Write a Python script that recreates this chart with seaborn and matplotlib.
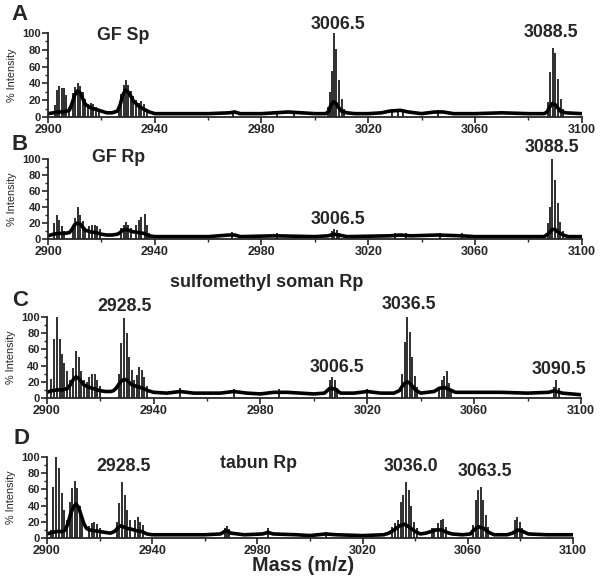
"""
MALDI spectra of adducted peptide, four panels (A-D), stick + baseline rendering.
"""

import matplotlib
matplotlib.use("Agg")
import matplotlib.pyplot as plt
import seaborn as sns
from matplotlib.ticker import MultipleLocator

sns.set_style("ticks")
plt.rcParams["font.family"] = ["Liberation Sans", "DejaVu Sans"]

# ---------------------------------------------------------------------------
# Data: baseline envelope + isotope sticks
# ---------------------------------------------------------------------------
a_base_mz = [2900, 2902, 2904, 2906, 2908, 2909, 2910, 2911, 2912, 2913, 2914, 2916, 2918, 2920,
             2922, 2924, 2926, 2927, 2928, 2929, 2930, 2931, 2932, 2934, 2936, 2938, 2940, 2950,
             2960, 2968, 2970, 2972, 2980, 2985, 2990, 2995, 3000, 3004, 3005, 3006, 3007, 3008,
             3009, 3010, 3012, 3015, 3020, 3025, 3028, 3032, 3035, 3040, 3045, 3048, 3052, 3060,
             3070, 3080, 3086, 3087, 3088, 3089, 3090, 3091, 3092, 3094, 3100]
a_base_int = [4, 5, 6, 6, 8, 16, 26, 31, 29, 22, 15, 11, 9, 7,
              5, 5, 7, 14, 26, 32, 30, 25, 19, 13, 9, 6, 4, 4,
              4, 5, 6, 4, 4, 5, 6, 5, 4, 4, 6, 14, 18, 16,
              11, 7, 5, 4, 4, 5, 7, 8, 6, 4, 6, 6, 4, 4,
              5, 4, 4, 6, 12, 16, 15, 11, 7, 5, 4]
a_peak_mz = [2902.5, 2903.3, 2904.2, 2905.1, 2906.0, 2906.8, 2907.7,
             2909.5, 2910.3, 2911.2, 2912.1, 2913.0, 2914.0, 2915.0, 2916.0, 2917.0, 2918.0, 2919.0,
             2926.5, 2927.5, 2928.4, 2929.2, 2930.1, 2931.0, 2932.0, 2933.0, 2934.0, 2935.0, 2936.0, 2937.0,
             2969.5, 2986.0, 2992.0,
             3004.8, 3005.6, 3006.3, 3007.2, 3008.1, 3009.1, 3010.0, 3011.0,
             3029.0, 3031.0, 3033.0, 3046.0,
             3087.5, 3088.3, 3089.1, 3090.1, 3091.1, 3092.1, 3093.0]
a_peak_int = [14, 32, 37, 35, 34, 26, 12,
              28, 36, 40, 37, 30, 22, 16, 17, 16, 12, 9,
              14, 27, 38, 44, 38, 31, 25, 20, 17, 19, 15, 10,
              7, 7, 7,
              12, 30, 55, 100, 81, 44, 22, 10,
              9, 9, 10, 8,
              18, 54, 82, 76, 45, 22, 10]

b_base_mz = [2900, 2902, 2904, 2906, 2908, 2909, 2910, 2911, 2912, 2913, 2914, 2916, 2918, 2920,
             2922, 2924, 2926, 2927, 2928, 2929, 2930, 2931, 2932, 2934, 2936, 2938, 2940, 2960,
             2968, 2970, 2972, 2985, 3000, 3005, 3007, 3009, 3012, 3028, 3032, 3036, 3046, 3055,
             3060, 3086, 3088, 3089, 3090, 3091, 3093, 3095, 3100]
b_base_int = [4, 6, 7, 7, 8, 12, 18, 20, 19, 15, 11, 9, 8, 6,
              5, 5, 6, 8, 11, 12, 11, 10, 9, 8, 7, 4, 3, 3,
              5, 5, 3, 4, 3, 4, 6, 5, 3, 4, 5, 4, 5, 4,
              3, 3, 8, 12, 12, 9, 5, 3, 3]
b_peak_mz = [2902.4, 2903.3, 2904.3, 2905.2, 2906.1,
             2909.5, 2910.3, 2911.2, 2912.1, 2913.0, 2914.0,
             2915.5, 2916.5, 2917.5, 2918.5, 2919.5,
             2927.5, 2928.4, 2929.2, 2930.1, 2931.0,
             2933.0, 2934.0, 2935.0, 2936.2, 2937.0, 2938.0,
             2969.0, 2986.0, 3006.5, 3007.3, 3008.2, 3009.0,
             3030.0, 3034.0, 3047.0, 3055.0,
             3087.5, 3088.3, 3089.0, 3090.1, 3091.1, 3092.0, 3093.0]
b_peak_int = [20, 30, 24, 16, 10,
              18, 26, 40, 30, 22, 14,
              16, 17, 17, 16, 12,
              14, 18, 21, 18, 14,
              18, 24, 28, 31, 18, 8,
              9, 7, 10, 12, 11, 7,
              7, 8, 8, 7,
              20, 40, 100, 74, 45, 21, 10]

c_base_mz = [2900, 2902, 2904, 2906, 2908, 2909, 2910, 2911, 2912, 2913, 2914, 2916, 2918, 2920,
             2922, 2924, 2925, 2926, 2927, 2928, 2929, 2930, 2931, 2932, 2934, 2936, 2938, 2940,
             2945, 2950, 2955, 2960, 2965, 2970, 2975, 2980, 2985, 2990, 2995, 3000, 3004, 3006,
             3008, 3010, 3015, 3020, 3025, 3030, 3032, 3033, 3034, 3035, 3036, 3037, 3038, 3040,
             3045, 3047, 3049, 3051, 3053, 3060, 3070, 3080, 3088, 3090, 3093, 3100]
c_base_int = [7, 9, 10, 10, 12, 17, 23, 26, 24, 20, 16, 13, 11, 9,
              8, 8, 9, 12, 17, 21, 23, 22, 19, 16, 14, 12, 9, 7,
              6, 8, 6, 6, 6, 8, 6, 5, 7, 7, 6, 5, 6, 12,
              11, 6, 6, 8, 6, 6, 9, 14, 18, 20, 18, 14, 10, 6,
              8, 12, 13, 10, 7, 7, 7, 6, 7, 9, 6, 4]
c_peak_mz = [2901.8, 2902.6, 2903.9, 2904.9, 2905.7, 2906.6, 2907.6, 2908.6,
             2909.7, 2911.0, 2912.0, 2913.0, 2914.0,
             2915.0, 2916.0, 2917.0, 2918.0, 2919.0, 2920.0,
             2927.0, 2928.0, 2929.1, 2930.0, 2930.9, 2931.8,
             2932.8, 2933.7, 2934.6, 2935.6, 2936.6, 2937.5,
             2950.0, 2970.0, 2987.0,
             3005.9, 3006.9, 3007.8, 3008.7,
             3020.0,
             3033.0, 3034.0, 3035.0, 3036.0, 3036.9, 3037.9, 3038.8,
             3047.0, 3047.9, 3048.8, 3049.7, 3050.6, 3051.5,
             3089.8, 3090.8, 3091.8]
c_peak_int = [24, 73, 100, 73, 54, 43, 33, 22,
              37, 58, 51, 33, 22,
              20, 26, 29, 30, 22, 15,
              30, 68, 99, 80, 51, 35,
              22, 28, 38, 35, 26, 15,
              12, 11, 11,
              22, 26, 22, 12,
              11,
              30, 69, 100, 82, 51, 27, 14,
              14, 22, 27, 33, 18, 11,
              14, 22, 12]

d_base_mz = [2900, 2902, 2904, 2906, 2907, 2908, 2909, 2910, 2911, 2912, 2913, 2914, 2915, 2916,
             2918, 2920, 2922, 2924, 2925, 2926, 2927, 2928, 2929, 2930, 2932, 2934, 2936, 2938,
             2940, 2950, 2960, 2966, 2968, 2970, 2975, 2982, 2984, 2986, 2995, 3000, 3006, 3010,
             3020, 3028, 3030, 3032, 3034, 3036, 3038, 3040, 3042, 3044, 3046, 3048, 3050, 3052,
             3054, 3058, 3061, 3062, 3064, 3066, 3068, 3070, 3075, 3077, 3079, 3081, 3083, 3090,
             3100]
d_base_int = [5, 7, 8, 8, 10, 18, 30, 38, 42, 38, 28, 18, 12, 10,
              9, 8, 7, 6, 7, 9, 13, 15, 14, 12, 11, 9, 8, 5,
              4, 4, 4, 5, 9, 6, 4, 5, 7, 5, 4, 3, 5, 4,
              3, 4, 6, 10, 15, 17, 13, 8, 5, 6, 8, 10, 10, 7,
              5, 4, 5, 9, 14, 12, 7, 4, 4, 6, 10, 8, 5, 4,
              4]
d_peak_mz = [2901.5, 2902.2, 2903.3, 2904.6, 2905.6, 2906.6, 2907.5,
             2908.8, 2909.7, 2910.6, 2911.5, 2912.4, 2913.3,
             2916.0, 2917.0, 2918.0, 2919.0, 2920.0,
             2926.5, 2927.5, 2928.5, 2929.5, 2930.5, 2931.6,
             2933.5, 2934.5, 2935.4, 2936.4,
             2967.5, 2968.3, 2969.2, 2984.0,
             3006.2,
             3031.3, 3032.3, 3033.3, 3034.5, 3035.5, 3036.5, 3037.5, 3038.5, 3039.5, 3040.6,
             3046.3, 3047.3, 3048.8, 3049.7, 3050.7, 3051.7,
             3062.0, 3063.0, 3064.0, 3064.9, 3065.9, 3066.8, 3067.8,
             3078.0, 3078.8, 3079.8, 3080.7]
d_peak_int = [10, 63, 100, 86, 55, 35, 22,
              45, 62, 71, 62, 40, 25,
              15, 18, 20, 17, 12,
              20, 43, 69, 53, 35, 22,
              22, 26, 20, 16,
              12, 15, 11, 12,
              8,
              14, 18, 22, 45, 53, 69, 59, 39, 20, 12,
              12, 12, 18, 22, 24, 14,
              16, 47, 59, 63, 47, 29, 14,
              22, 26, 20, 12]

# peak annotations: (text, m/z, % intensity)
a_labels = [("GF Sp", 2928.0, 97), ("3006.5", 3008.8, 110), ("3088.5", 3088.6, 101)]
b_labels = [("GF Rp", 2926.4, 102), ("3006.5", 3008.8, 25), ("3088.5", 3089.0, 114)]
c_labels = [("sulfomethyl soman Rp", 2982.5, 143), ("2928.5", 2929.3, 113),
            ("3036.5", 3035.6, 116), ("3006.5", 3008.6, 38), ("3090.5", 3091.8, 35)]
d_labels = [("2928.5", 2929.0, 88), ("tabun Rp", 2980.6, 92),
            ("3036.0", 3038.3, 88), ("3063.5", 3066.5, 82)]

x_major = [2900, 2940, 2980, 3020, 3060, 3100]
x_minor = [2920, 2960, 3000, 3040, 3080]

panel_letters = ["A", "B", "C", "D"]
letter_px = [(20, 15), (20, 144), (20, 300), (21, 438)]

# ---------------------------------------------------------------------------
# Figure
# ---------------------------------------------------------------------------
fig = plt.figure(figsize=(6, 5.81), dpi=100)
rects = [(0.080, 0.7986, 0.8895, 0.1446),
         (0.080, 0.5886, 0.8895, 0.1377),
         (0.0778, 0.3150, 0.8905, 0.1394),
         (0.0783, 0.0740, 0.8767, 0.1394)]
panels = [(a_base_mz, a_base_int, a_peak_mz, a_peak_int, a_labels),
          (b_base_mz, b_base_int, b_peak_mz, b_peak_int, b_labels),
          (c_base_mz, c_base_int, c_peak_mz, c_peak_int, c_labels),
          (d_base_mz, d_base_int, d_peak_mz, d_peak_int, d_labels)]

axes = []
for rect, (bmz, bint, pmz, pint, labels) in zip(rects, panels):
    ax = fig.add_axes(rect)
    sns.lineplot(x=bmz, y=bint, ax=ax, color="black", lw=2.6, estimator=None)
    ax.vlines(pmz, 0, pint, color="black", lw=1.15)
    ax.set_xlim(2900, 3100)
    ax.set_ylim(0, 100)
    ax.set_xticks(x_major)
    ax.set_xticks(x_minor, minor=True)
    ax.yaxis.set_major_locator(MultipleLocator(20))
    ax.yaxis.set_minor_locator(MultipleLocator(10))
    ax.tick_params(which="major", direction="out", length=4, width=1.2, pad=1)
    ax.tick_params(which="minor", direction="out", length=2.5, width=1.0)
    ax.tick_params(axis="x", labelsize=9)
    ax.tick_params(axis="y", labelsize=8)
    for lab in ax.get_xticklabels() + ax.get_yticklabels():
        lab.set_fontweight("bold")
    sns.despine(ax=ax)
    for sp in ("left", "bottom"):
        ax.spines[sp].set_linewidth(1.3)
    ax.set_ylabel("% Intensity", fontsize=7.8)
    ax.yaxis.set_label_coords(-0.058, 0.5)
    for txt, mz, y in labels:
        ax.text(mz, y, txt, ha="center", va="center", fontsize=13 if len(txt) > 8 else 12.8,
                fontweight="bold", clip_on=False)
    axes.append(ax)

axes[-1].set_xlabel("Mass (m/z)", fontsize=14.3, fontweight="bold")
axes[-1].xaxis.set_label_coords(0.486, -0.22)

for letter, (px, py) in zip(panel_letters, letter_px):
    fig.text(px / 600, 1 - py / 581, letter, ha="center", va="center",
             fontsize=16, fontweight="bold")

fig.savefig("out.png", dpi=100)
plt.close(fig)
